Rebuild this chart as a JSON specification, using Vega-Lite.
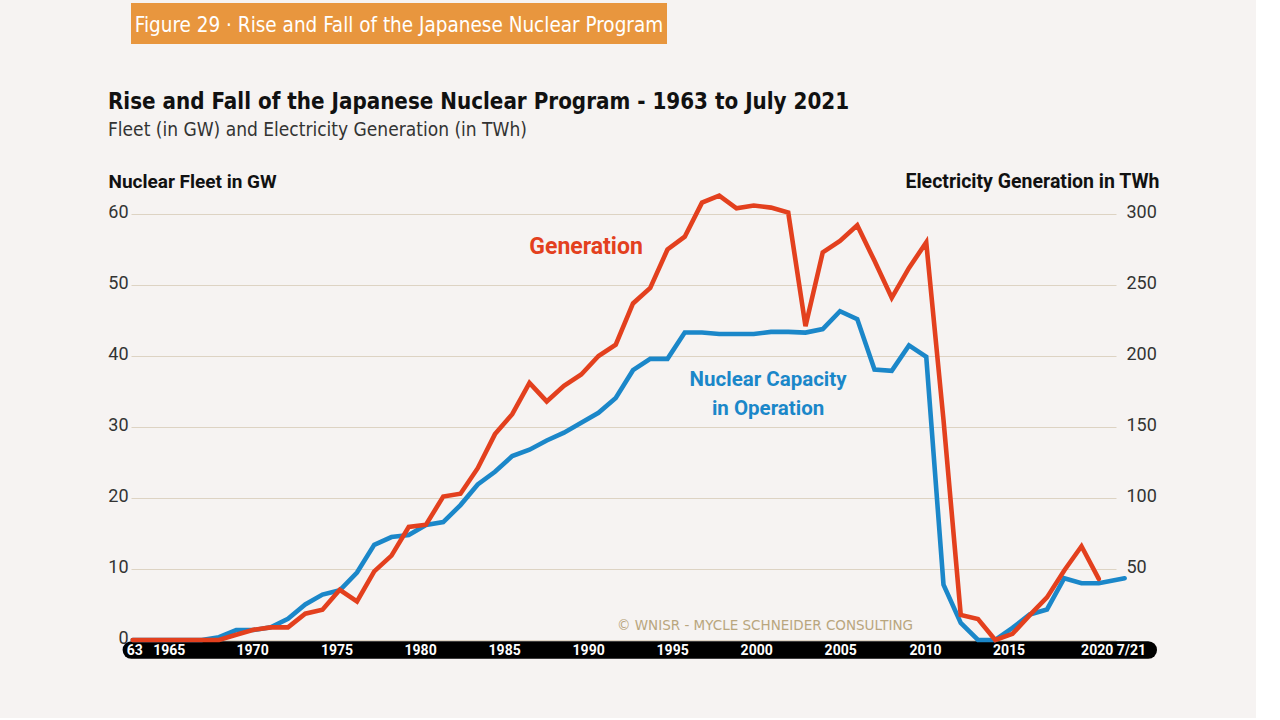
{
  "$schema": "https://vega.github.io/schema/vega-lite/v6.json",
  "background": "#F6F3F2",
  "padding": {"left": 107, "top": 3, "right": 97, "bottom": 59},
  "autosize": {"type": "pad"},
  "config": {"font": "Roboto", "view": {"stroke": null}},
  "datasets": {
    "header": [{"label": "Figure 29 · Rise and Fall of the Japanese Nuclear Program"}],
    "nuclear": [
      {"year": 1964, "gw": 0, "twh": 0},
      {"year": 1965, "gw": 0, "twh": 0},
      {"year": 1966, "gw": 0, "twh": 0},
      {"year": 1967, "gw": 0, "twh": 0},
      {"year": 1968, "gw": 0, "twh": 0},
      {"year": 1969, "gw": 0.4, "twh": 0},
      {"year": 1970, "gw": 1.4, "twh": 3.7},
      {"year": 1971, "gw": 1.4, "twh": 7.2},
      {"year": 1972, "gw": 1.8, "twh": 8.9},
      {"year": 1973, "gw": 3.0, "twh": 8.9},
      {"year": 1974, "gw": 5.0, "twh": 18.5},
      {"year": 1975, "gw": 6.4, "twh": 21.3},
      {"year": 1976, "gw": 7.0, "twh": 35.4},
      {"year": 1977, "gw": 9.5, "twh": 27.2},
      {"year": 1978, "gw": 13.4, "twh": 48.3},
      {"year": 1979, "gw": 14.5, "twh": 59.4},
      {"year": 1980, "gw": 14.8, "twh": 79.6},
      {"year": 1981, "gw": 16.2, "twh": 81.2},
      {"year": 1982, "gw": 16.6, "twh": 101},
      {"year": 1983, "gw": 19.0, "twh": 103},
      {"year": 1984, "gw": 21.9, "twh": 121},
      {"year": 1985, "gw": 23.7, "twh": 145},
      {"year": 1986, "gw": 25.9, "twh": 159},
      {"year": 1987, "gw": 26.8, "twh": 181},
      {"year": 1988, "gw": 28.1, "twh": 168},
      {"year": 1989, "gw": 29.2, "twh": 179},
      {"year": 1990, "gw": 30.6, "twh": 187},
      {"year": 1991, "gw": 32.0, "twh": 200},
      {"year": 1992, "gw": 34.1, "twh": 208},
      {"year": 1993, "gw": 38.0, "twh": 237},
      {"year": 1994, "gw": 39.6, "twh": 248},
      {"year": 1995, "gw": 39.6, "twh": 275},
      {"year": 1996, "gw": 43.3, "twh": 284},
      {"year": 1997, "gw": 43.3, "twh": 308},
      {"year": 1998, "gw": 43.1, "twh": 313},
      {"year": 1999, "gw": 43.1, "twh": 304},
      {"year": 2000, "gw": 43.1, "twh": 306},
      {"year": 2001, "gw": 43.4, "twh": 304.5},
      {"year": 2002, "gw": 43.4, "twh": 301},
      {"year": 2003, "gw": 43.3, "twh": 221},
      {"year": 2004, "gw": 43.8, "twh": 273},
      {"year": 2005, "gw": 46.3, "twh": 281},
      {"year": 2006, "gw": 45.2, "twh": 292},
      {"year": 2007, "gw": 38.1, "twh": 267},
      {"year": 2008, "gw": 37.9, "twh": 241},
      {"year": 2009, "gw": 41.5, "twh": 262},
      {"year": 2010, "gw": 39.9, "twh": 280},
      {"year": 2011, "gw": 7.8, "twh": 155},
      {"year": 2012, "gw": 2.4, "twh": 17.6},
      {"year": 2013, "gw": 0, "twh": 14.8},
      {"year": 2014, "gw": 0, "twh": 0},
      {"year": 2015, "gw": 1.7, "twh": 4.3},
      {"year": 2016, "gw": 3.6, "twh": 17.5},
      {"year": 2017, "gw": 4.3, "twh": 30},
      {"year": 2018, "gw": 8.7, "twh": 49},
      {"year": 2019, "gw": 8.0, "twh": 66},
      {"year": 2020, "gw": 8.0, "twh": 43},
      {"year": 2021.5, "gw": 8.7, "twh": null}
    ]
  },
  "spacing": 170,
  "bounds": "flush",
  "vconcat": [
    {
      "width": 536,
      "height": 41,
      "view": {"fill": "#E8963E", "stroke": null},
      "data": {"name": "header"},
      "mark": {
        "type": "text",
        "color": "white",
        "font": "DejaVu Sans Condensed",
        "fontSize": 20.5,
        "align": "center",
        "baseline": "middle",
        "dy": 2
      },
      "encoding": {"text": {"field": "label"}}
    },
    {
      "width": 985,
      "height": 426,
      "title": {
        "text": "Rise and Fall of the Japanese Nuclear Program - 1963 to July 2021",
        "subtitle": "Fleet (in GW) and Electricity Generation (in TWh)",
        "anchor": "start",
        "frame": "group",
        "dx": -23,
        "offset": 31,
        "font": "DejaVu Sans Condensed",
        "fontSize": 22.2,
        "fontWeight": "bold",
        "color": "#111111",
        "subtitleFont": "DejaVu Sans Condensed",
        "subtitleFontSize": 19,
        "subtitleColor": "#333333",
        "subtitlePadding": 8
      },
      "layer": [
        {
          "data": {"values": [{}]},
          "mark": {"type": "rule", "color": "black", "strokeWidth": 17.5, "strokeCap": "round"},
          "encoding": {
            "x": {"datum": 1963.92, "type": "quantitative", "scale": {"domain": [1963.9, 2021.0], "nice": false, "zero": false}},
            "x2": {"datum": 2022.87},
            "y": {"datum": -1.41, "type": "quantitative", "scale": {"domain": [0, 60], "nice": false}, "axis": null}
          }
        },
        {
          "data": {"name": "nuclear"},
          "mark": {"type": "line", "color": "#1B87C9", "strokeWidth": 4.6, "strokeCap": "round"},
          "encoding": {
            "x": {
              "field": "year",
              "type": "quantitative",
              "scale": {"domain": [1963.9, 2021.0], "nice": false, "zero": false},
              "axis": {
                "title": null,
                "values": [1964.09, 1966.09, 1970.92, 1975.81, 1980.66, 1985.53, 1990.4, 1995.27, 2000.14, 2005.01, 2009.93, 2014.77, 2020.83],
                "labelExpr": "datum.value < 1965 ? '63' : datum.value < 1968 ? '1965' : datum.value > 2020.5 ? '2020 7/21' : '' + (1970 + 5 * round((datum.value - 1970.92) / 4.875))",
                "domain": false,
                "ticks": false,
                "tickSize": 0,
                "grid": false,
                "labelColor": "white",
                "labelFont": "Roboto",
                "labelFontWeight": "bold",
                "labelFontSize": 14,
                "labelPadding": 10,
                "labelBaseline": "middle",
                "labelFlush": false,
                "labelOverlap": false,
                "labelBound": false,
                "zindex": 1
              }
            },
            "y": {
              "field": "gw",
              "type": "quantitative",
              "scale": {"domain": [0, 60], "nice": false},
              "axis": {
                "orient": "left",
                "values": [0, 10, 20, 30, 40, 50, 60],
                "grid": true,
                "gridColor": "#DDD3C3",
                "gridWidth": 1.2,
                "domain": false,
                "ticks": false,
                "tickSize": 0,
                "labelPadding": 3,
                "labelOffset": -1.5,
                "labelFontSize": 18,
                "labelColor": "#333333",
                "title": "Nuclear Fleet in GW",
                "titleAngle": 0,
                "titleAlign": "left",
                "titleBaseline": "middle",
                "titleX": -23,
                "titleY": -33,
                "titleFontSize": 19,
                "titleFontWeight": "bold",
                "titleColor": "#111111"
              }
            }
          }
        },
        {
          "data": {"name": "nuclear"},
          "mark": {"type": "line", "color": "#E3401E", "strokeWidth": 4.6, "strokeCap": "round"},
          "encoding": {
            "x": {"field": "year", "type": "quantitative"},
            "y": {
              "field": "twh",
              "type": "quantitative",
              "scale": {"domain": [0, 300], "nice": false},
              "axis": {
                "orient": "right",
                "values": [50, 100, 150, 200, 250, 300],
                "grid": false,
                "domain": false,
                "ticks": false,
                "tickSize": 0,
                "labelPadding": 10,
                "labelOffset": -1.5,
                "labelFontSize": 18,
                "labelColor": "#333333",
                "title": "Electricity Generation in TWh",
                "titleAngle": 0,
                "titleAlign": "right",
                "titleBaseline": "middle",
                "titleX": 43,
                "titleY": -33,
                "titleFontSize": 19.5,
                "titleFontWeight": "bold",
                "titleColor": "#111111"
              }
            }
          }
        },
        {
          "data": {"values": [{"label": "Generation"}]},
          "mark": {"type": "text", "color": "#E3401E", "fontSize": 23, "fontWeight": "bold", "align": "center", "baseline": "alphabetic"},
          "encoding": {
            "x": {"datum": 1990.28, "type": "quantitative"},
            "y": {"datum": 54.4, "type": "quantitative", "scale": {"domain": [0, 60], "nice": false}, "axis": null},
            "text": {"field": "label"}
          }
        },
        {
          "data": {"values": [{"label": ["Nuclear Capacity", "in Operation"]}]},
          "mark": {"type": "text", "color": "#1B87C9", "fontSize": 20.5, "fontWeight": "bold", "align": "center", "baseline": "alphabetic", "lineHeight": 29},
          "encoding": {
            "x": {"datum": 2000.83, "type": "quantitative"},
            "y": {"datum": 35.8, "type": "quantitative", "scale": {"domain": [0, 60], "nice": false}, "axis": null},
            "text": {"field": "label"}
          }
        },
        {
          "data": {"values": [{"label": "© WNISR - MYCLE SCHNEIDER CONSULTING"}]},
          "mark": {"type": "text", "color": "#B9A67E", "font": "DejaVu Sans", "fontSize": 13.5, "align": "center", "baseline": "alphabetic"},
          "encoding": {
            "x": {"datum": 2000.65, "type": "quantitative"},
            "y": {"datum": 1.45, "type": "quantitative", "scale": {"domain": [0, 60], "nice": false}, "axis": null},
            "text": {"field": "label"}
          }
        }
      ],
      "resolve": {"scale": {"y": "independent"}}
    }
  ]
}
